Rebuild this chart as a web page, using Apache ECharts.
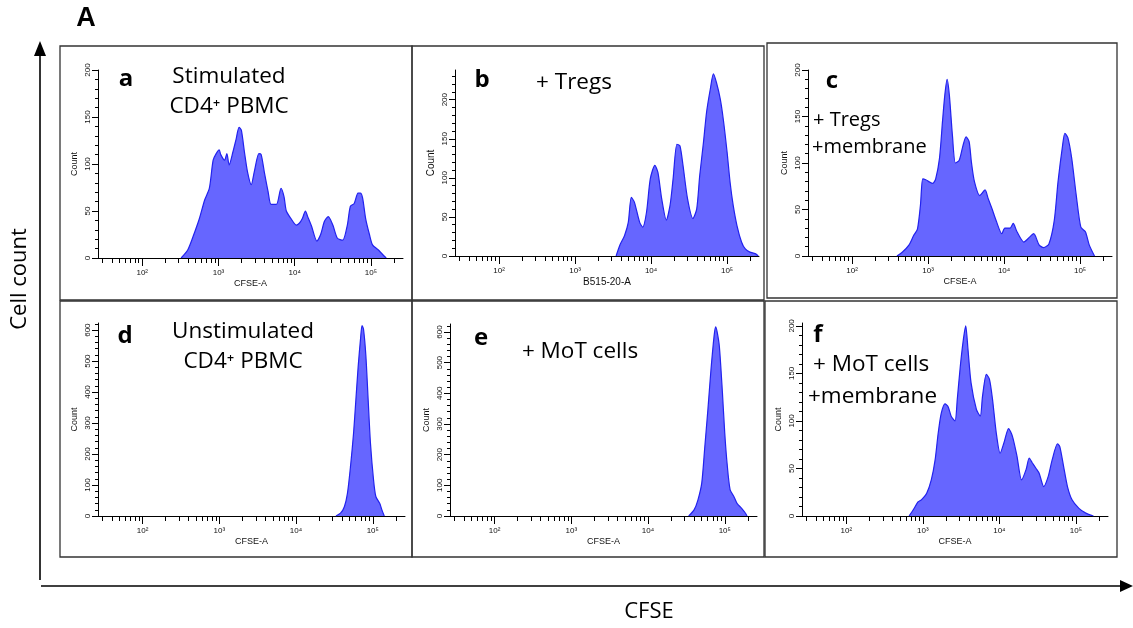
<!DOCTYPE html>
<html><head><meta charset="utf-8">
<script src="https://cdn.jsdelivr.net/npm/echarts@6/dist/echarts.min.js"></script>
<style>html,body{margin:0;padding:0;background:#fff}#c{width:1133px;height:628px}</style>
</head><body><div id="c"></div>
<script>
// x values are log10(CFSE-A intensity); y values are cell counts
const logA = [2.51,2.60,2.69,2.75,2.82,2.88,2.93,2.97,3.01,3.03,3.08,3.11,3.14,3.19,3.23,3.27,3.30,3.34,3.38,3.43,3.47,3.53,3.56,3.60,3.65,3.69,3.76,3.82,3.86,3.89,3.95,4.02,4.06,4.10,4.14,4.17,4.22,4.29,4.34,4.39,4.44,4.50,4.56,4.63,4.69,4.73,4.78,4.83,4.86,4.89,4.93,4.98,5.02,5.09,5.15,5.20];
const countA = [0,9,28,42,62,74,104,111,115,110,104,111,99,113,126,139,136,113,92,78,92,111,110,92,71,57,57,74,65,50,42,35,37,42,50,44,34,18,25,39,44,35,21,19,35,55,58,69,69,64,42,25,14,9,4,0];
const logB = [3.54,3.59,3.65,3.70,3.74,3.78,3.85,3.89,3.94,3.99,4.05,4.09,4.14,4.20,4.25,4.29,4.34,4.38,4.42,4.48,4.55,4.60,4.64,4.69,4.73,4.78,4.82,4.86,4.91,4.95,5.00,5.04,5.08,5.13,5.19,5.24,5.30,5.37,5.41];
const countB = [0,14,26,43,75,69,43,37,56,99,116,107,73,46,65,99,143,141,116,73,48,60,103,146,184,214,233,222,201,175,133,94,65,39,18,9,5,3,0];
const logC = [2.59,2.66,2.75,2.81,2.86,2.90,2.93,2.97,3.01,3.06,3.10,3.15,3.19,3.22,3.25,3.28,3.32,3.36,3.41,3.46,3.50,3.54,3.57,3.61,3.68,3.75,3.79,3.84,3.90,3.97,4.01,4.08,4.12,4.17,4.26,4.32,4.39,4.46,4.52,4.59,4.66,4.71,4.77,4.80,4.84,4.89,4.95,5.01,5.07,5.12,5.19];
const countC = [0,4,12,22,29,55,83,82,80,78,83,105,145,173,190,173,130,100,103,119,128,123,101,80,65,71,62,51,37,24,30,30,35,26,15,19,24,12,9,13,38,80,119,132,127,105,65,31,26,12,0];
const logD = [4.52,4.58,4.63,4.67,4.71,4.75,4.78,4.81,4.84,4.86,4.88,4.91,4.94,4.97,5.01,5.04,5.09,5.12,5.15];
const countD = [0,9,30,73,160,268,375,483,570,615,602,518,375,235,117,63,41,19,0];
const logE = [4.53,4.60,4.65,4.70,4.74,4.78,4.82,4.86,4.88,4.90,4.93,4.97,5.00,5.03,5.07,5.12,5.16,5.22,5.27,5.29];
const countE = [0,20,52,107,226,346,476,585,617,601,552,400,270,172,85,63,41,25,9,0];
const logF = [2.82,2.87,2.94,2.98,3.05,3.11,3.16,3.20,3.24,3.29,3.33,3.37,3.42,3.45,3.49,3.53,3.56,3.59,3.63,3.70,3.75,3.78,3.83,3.87,3.91,3.96,4.01,4.06,4.12,4.17,4.23,4.29,4.35,4.39,4.43,4.48,4.52,4.58,4.64,4.69,4.76,4.79,4.84,4.89,4.95,5.04,5.13,5.23];
const countF = [0,6,15,17,24,38,59,87,108,118,115,105,100,123,158,186,200,175,140,112,105,126,149,144,123,87,66,77,92,84,63,38,49,61,56,50,45,31,42,59,76,73,52,31,17,8,3,0];

// tick labels
const xDecades = [2,3,4,5];                    // 10^2 .. 10^5
const xMinorValues = [30,40,50,60,70,80,90,200,300,400,500,600,700,800,900,2000,3000,4000,5000,6000,7000,8000,9000,20000,30000,40000,50000,60000,70000,80000,90000,200000];
const yTicks200 = [0,50,100,150,200];
const yMinor200 = [10,20,30,40,60,70,80,90,110,120,130,140,160,170,180,190];
const yMinor230 = [10,20,30,40,60,70,80,90,110,120,130,140,160,170,180,190,210,220,230];
const yTicks600 = [0,100,200,300,400,500,600];
const yMinor600 = [20,40,60,80,120,140,160,180,220,240,260,280,320,340,360,380,420,440,460,480,520,540,560,580,620];
const panelLetters = ['a','b','c','d','e','f'];
const xNames = ['CFSE-A','B515-20-A','CFSE-A','CFSE-A','CFSE-A','CFSE-A'];

const sup = {2:'\u00b2',3:'\u00b3',4:'\u2074',5:'\u2075'};

const P = [
  {xs: logA, ys: countA, ymax: 200, yt: yTicks200, ym: yMinor200, g:{left:98, top:70, width:305, height:188}},
  {xs: logB, ys: countB, ymax: 238, yt: yTicks200, ym: yMinor230, g:{left:455, top:70, width:304, height:186}},
  {xs: logC, ys: countC, ymax: 200, yt: yTicks200, ym: yMinor200, g:{left:808, top:70, width:304, height:186}},
  {xs: logD, ys: countD, ymax: 623, yt: yTicks600, ym: yMinor600, g:{left:98, top:323, width:307, height:193}},
  {xs: logE, ys: countE, ymax: 626, yt: yTicks600, ym: yMinor600, g:{left:450, top:324, width:307, height:192}},
  {xs: logF, ys: countF, ymax: 203, yt: yTicks200, ym: yMinor200, g:{left:802, top:323, width:306, height:193}}
];
const XMIN = 1.42, XMAX = 5.42;
const lab = {fontFamily:'Liberation Sans, DejaVu Sans, sans-serif', color:'#111'};
const grid = [], xAxis = [], yAxis = [], series = [];
P.forEach((p, i) => {
  grid.push(Object.assign({outerBoundsMode:'none', containLabel:false}, p.g));
  xAxis.push({type:'value', gridIndex:i, position:'bottom', min:XMIN, max:XMAX,
    axisLine:{show:true, lineStyle:{color:'#000', width:1}},
    axisTick:{show:true, customValues:xDecades, length:8, lineStyle:{color:'#000', width:1}},
    axisLabel:Object.assign({customValues:xDecades, fontSize:8, margin:11, formatter:v => '10' + sup[Math.round(v)]}, lab),
    splitLine:{show:false},
    name:xNames[i], nameLocation:'middle', nameGap:21,
    nameTextStyle:Object.assign({fontSize: i===1 ? 10 : 9}, lab)});
  xAxis.push({type:'value', gridIndex:i, position:'bottom', min:XMIN, max:XMAX,
    axisLine:{show:false},
    axisTick:{show:true, customValues:xMinorValues.map(v => Math.log10(v)), length:5, lineStyle:{color:'#000', width:1}},
    axisLabel:{show:false}, splitLine:{show:false}});
  yAxis.push({type:'value', gridIndex:i, position:'left', min:0, max:p.ymax,
    axisLine:{show:true, lineStyle:{color:'#000', width:1}},
    axisTick:{show:true, customValues:p.yt, length:6, lineStyle:{color:'#000', width:1}},
    axisLabel:Object.assign({customValues:p.yt, fontSize:8, rotate:90, margin:6}, lab),
    splitLine:{show:false},
    name:'Count', nameLocation:'middle', nameGap:19, nameRotate:90,
    nameTextStyle:Object.assign({fontSize: i===1 ? 10 : 9}, lab)});
  yAxis.push({type:'value', gridIndex:i, position:'left', min:0, max:p.ymax,
    axisLine:{show:false},
    axisTick:{show:true, customValues:p.ym, length:3, lineStyle:{color:'#000', width:1}},
    axisLabel:{show:false}, splitLine:{show:false}});
  series.push({type:'line', xAxisIndex:i*2, yAxisIndex:i*2,
    data:p.xs.map((x, k) => [x, p.ys[k]]),
    smooth:0.25, symbol:'none', silent:true, animation:false,
    lineStyle:{color:'#2222ee', width:1.2},
    areaStyle:{color:'#6666ff', opacity:1}});
});

const F = '"Open Sans", sans-serif';
function txt(text, x, y, size, opts, rot) {
  const el = {type:'text', silent:true, z:10, style:Object.assign({text:text, x:0, y:0,
    font: size + 'px ' + F, fill:'#000', align:'center', verticalAlign:'middle'}, opts || {})};
  el.x = x; el.y = y;
  if (rot) el.rotation = rot;
  return el;
}
function bold(text, x, y) { return txt(text, x, y, 24, {font:'bold 24px ' + F}); }
const boxes = [[60,46,352,254],[412,46,352,254],[767,43,350,255],[60,301,352,256],[412,301,352,256],[765,301,352,256]];
const graphic = [];
boxes.forEach(b => graphic.push({type:'rect', silent:true, z:1, shape:{x:b[0], y:b[1], width:b[2], height:b[3]},
  style:{fill:'none', stroke:'#333', lineWidth:1.3}}));
graphic.push(
  {type:'line', silent:true, shape:{x1:40, y1:580, x2:40, y2:54}, style:{stroke:'#000', lineWidth:1.6}},
  {type:'polygon', silent:true, shape:{points:[[34,56],[46,56],[40,41]]}, style:{fill:'#000'}},
  {type:'line', silent:true, shape:{x1:41, y1:586, x2:1121, y2:586}, style:{stroke:'#000', lineWidth:1.6}},
  {type:'polygon', silent:true, shape:{points:[[1120,580],[1120,592],[1133,586]]}, style:{fill:'#000'}},
  txt('A', 86, 19, 27, {font:'bold 27px "Liberation Sans", Arial, sans-serif'}),
  txt('Cell count', 20, 279, 22, {}, Math.PI/2),
  txt('CFSE', 649, 612, 22),
  bold(panelLetters[0], 126, 79),
  txt('Stimulated', 229, 77, 22.5),
  txt('CD4\u207a PBMC', 229, 107, 22.5),
  bold(panelLetters[1], 482, 80),
  txt('+ Tregs', 574, 83, 22.5),
  bold(panelLetters[2], 832, 81),
  txt('+ Tregs', 813, 120, 20, {align:'left'}),
  txt('+membrane', 812, 147, 20, {align:'left'}),
  bold(panelLetters[3], 125, 336),
  txt('Unstimulated', 243, 332, 22.5),
  txt('CD4\u207a PBMC', 243, 362, 22.5),
  bold(panelLetters[4], 481, 338),
  txt('+ MoT cells', 580, 352, 22.5),
  bold(panelLetters[5], 818, 335),
  txt('+ MoT cells', 813, 365, 22.5, {align:'left'}),
  txt('+membrane', 808, 397, 22.5, {align:'left'})
);

const chart = echarts.init(document.getElementById('c'), null, {renderer:'canvas'});
chart.setOption({animation:false, backgroundColor:'#fff', grid, xAxis, yAxis, series, graphic});
</script>
</body></html>
